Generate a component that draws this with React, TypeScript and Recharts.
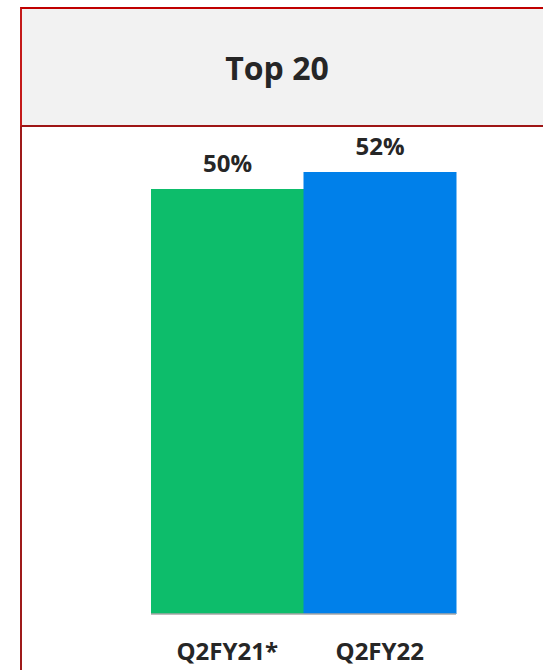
import React from "react";
import { BarChart, Bar, XAxis, YAxis, LabelList, Cell } from "recharts";

const categories = ["Q2FY21*", "Q2FY22"];
const values = [50, 52];
const barColors = ["#0dbd6b", "#0080ea"];
const title = "Top 20";

const data = categories.map((c, i) => ({ name: c, value: values[i] }));

const FONT = "'Open Sans', 'DejaVu Sans', sans-serif";

export default function App() {
  return (
    <div style={{ position: "absolute", left: 0, top: 0, width: 543, height: 670, background: "#ffffff", overflow: "hidden", fontFamily: FONT }}>
      <div style={{ position: "absolute", left: 0, top: 0 }}>
        <BarChart
          width={543}
          height={670}
          data={data}
          margin={{ top: 104, right: 87, bottom: 0, left: 151 }}
          barCategoryGap={0}
          barGap={0}
        >
          <YAxis hide domain={[0, 60]} type="number" />
          <XAxis
            dataKey="name"
            height={56}
            tickLine={false}
            tickSize={0}
            tickMargin={29}
            axisLine={{ stroke: "#a6a6a6", strokeWidth: 1.5 }}
            tick={{ fill: "#262626", fontSize: 24, fontWeight: 700, fontFamily: FONT }}
            interval={0}
          />
          <Bar dataKey="value" isAnimationActive={false}>
            {data.map((d, i) => (
              <Cell key={d.name} fill={barColors[i]} />
            ))}
            <LabelList
              dataKey="value"
              position="top"
              offset={17}
              formatter={(v: number) => `${v}%`}
              style={{ fill: "#262626", fontSize: 24, fontWeight: 700, fontFamily: FONT }}
            />
          </Bar>
        </BarChart>
      </div>
      <div
        style={{
          position: "absolute",
          left: 20,
          top: 7,
          width: 540,
          height: 120,
          boxSizing: "border-box",
          background: "#f2f2f2",
          borderTop: "2px solid #c00000",
          borderLeft: "2px solid #c41a1a",
          borderBottom: "2px solid #9e1515",
        }}
      />
      <div
        style={{
          position: "absolute",
          left: 0,
          width: 554,
          top: 46,
          textAlign: "center",
          fontSize: 32,
          fontWeight: 700,
          color: "#262626",
          lineHeight: "44px",
        }}
      >
        {title}
      </div>
      <div
        style={{
          position: "absolute",
          left: 20,
          top: 127,
          width: 2,
          height: 543,
          background: "#9e1a1a",
        }}
      />
    </div>
  );
}
